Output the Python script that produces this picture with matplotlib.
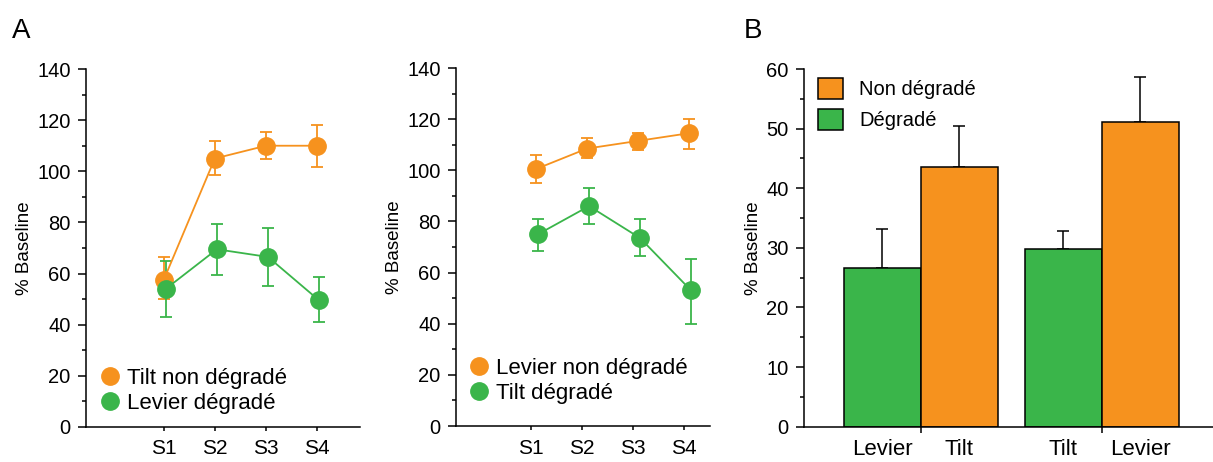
import numpy as np
import matplotlib
matplotlib.use("Agg")
import matplotlib.pyplot as plt
from matplotlib.lines import Line2D
from matplotlib.patches import Patch

plt.rcParams['font.family'] = ['Liberation Sans', 'DejaVu Sans']

ORANGE = '#F6921E'
GREEN = '#3AB54A'

sessions = ['S1', 'S2', 'S3', 'S4']

# panel A left: tilt non degrade / levier degrade
a1_orange = [57.5, 105, 110, 110]
a1_orange_lo = [50, 98.5, 105, 101.5]
a1_orange_hi = [66.5, 112, 115.5, 118]
a1_green = [54, 69.5, 66.5, 49.5]
a1_green_lo = [43, 59.5, 55, 41]
a1_green_hi = [65, 79.5, 78, 58.5]

# panel A right: levier non degrade / tilt degrade
a2_orange = [100.5, 108.5, 111.5, 114.5]
a2_orange_lo = [95, 105, 108, 108.5]
a2_orange_hi = [106, 112.5, 114.5, 120]
a2_green = [75, 86, 73.5, 53]
a2_green_lo = [68.5, 79, 66.5, 40]
a2_green_hi = [81, 93, 81, 65.5]

# panel B
b_labels = ['Levier', 'Tilt', 'Tilt', 'Levier']
b_values = [26.7, 43.6, 29.8, 51.1]
b_err = [6.5, 6.8, 3.1, 7.5]
b_colors = [GREEN, ORANGE, GREEN, ORANGE]

fig = plt.figure(figsize=(12.13, 4.62), dpi=100)


def style_axis(ax, ymax, major, minor):
    for s in ['top', 'right']:
        ax.spines[s].set_visible(False)
    for s in ['left', 'bottom']:
        ax.spines[s].set_linewidth(1.1)
    ax.set_ylim(0, ymax)
    ax.set_yticks(np.arange(0, ymax + 1, major))
    ax.set_yticks(np.arange(0, ymax + 1, minor), minor=True)
    ax.tick_params(axis='y', which='major', length=6, width=1.1, labelsize=14.5, pad=5)
    ax.tick_params(axis='y', which='minor', length=3, width=1.1)
    ax.tick_params(axis='x', which='major', length=3, width=1.1, labelsize=15, pad=6)
    ax.set_ylabel('% Baseline', fontsize=13.5, labelpad=3)


def line_panel(ax, xo, yo, lo, hi, xg, yg, glo, ghi, lab_o, lab_g, xlim, leg_pos):
    for x, y, l, h, c in [(xo, yo, lo, hi, ORANGE), (xg, yg, glo, ghi, GREEN)]:
        y = np.array(y)
        err = [y - np.array(l), np.array(h) - y]
        ax.errorbar(x, y, yerr=err, color=c, marker='o', markersize=12.5,
                    linewidth=1.3, elinewidth=1.3, capsize=4, capthick=1.3)
    style_axis(ax, 140, 20, 10)
    ax.set_xlim(*xlim)
    ax.set_xticks([1, 2, 3, 4], sessions)
    handles = [Line2D([], [], marker='o', color=ORANGE, linestyle='none', markersize=12.5),
               Line2D([], [], marker='o', color=GREEN, linestyle='none', markersize=12.5)]
    ax.legend(handles, [lab_o, lab_g], loc='lower left', bbox_to_anchor=leg_pos,
              frameon=False, fontsize=16, handletextpad=0.2, labelspacing=0.18,
              handlelength=1.1, borderaxespad=0, borderpad=0)


x = np.array([1, 2, 3, 4])
ax1 = fig.add_axes([0.0709, 0.0758, 0.2259, 0.7748])
line_panel(ax1, x, a1_orange, a1_orange_lo, a1_orange_hi,
           x + 0.04, a1_green, a1_green_lo, a1_green_hi,
           'Tilt non dégradé', 'Levier dégradé', (-0.52, 4.84), (0.044, 0.036))

ax2 = fig.add_axes([0.3759, 0.0779, 0.2094, 0.7749])
line_panel(ax2, x + 0.1, a2_orange, a2_orange_lo, a2_orange_hi,
           x + 0.14, a2_green, a2_green_lo, a2_green_hi,
           'Levier non dégradé', 'Tilt dégradé', (-0.47, 4.51), (0.043, 0.061))

# panel B bars
ax3 = fig.add_axes([0.6628, 0.0764, 0.3372, 0.7742])
w = 0.426
bx = np.array([-w / 2, w / 2, 1 - w / 2, 1 + w / 2])
ax3.bar(bx, b_values, width=w, color=b_colors, edgecolor='black', linewidth=1.1, zorder=2)
ax3.errorbar(bx, b_values, yerr=[np.zeros(4), b_err], fmt='none', ecolor='black',
             elinewidth=1.1, capsize=4, capthick=1.1, zorder=1)
style_axis(ax3, 60, 10, 5)
ax3.set_xlim(-0.645, 1.615)
ax3.set_xticks([0, 1], ['', ''])
ax3.set_xticks(bx, b_labels, minor=True)
ax3.tick_params(axis='x', which='major', length=4)
ax3.tick_params(axis='x', which='minor', length=0, labelsize=16, pad=9)
ax3.legend([Patch(facecolor=ORANGE, edgecolor='black', linewidth=1.1),
            Patch(facecolor=GREEN, edgecolor='black', linewidth=1.1)],
           ['Non dégradé', 'Dégradé'], loc='upper left', bbox_to_anchor=(0.034, 0.975),
           frameon=False, fontsize=14.5, handlelength=1.24, handleheight=1.2,
           handletextpad=0.8, labelspacing=0.5, borderaxespad=0, borderpad=0)

fig.text(0.010, 0.918, 'A', fontsize=20)
fig.text(0.613, 0.918, 'B', fontsize=20)

fig.savefig('out.png', dpi=100)
